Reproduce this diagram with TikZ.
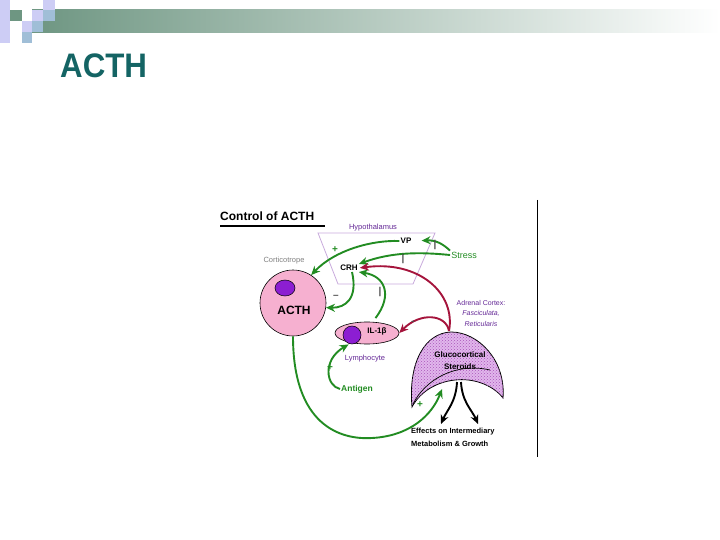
\documentclass[tikz,border=0pt]{standalone}
\usepackage{fontspec}
\setmainfont{Liberation Sans}
\usetikzlibrary{arrows.meta,shapes.geometric,patterns}
\definecolor{ggreen}{RGB}{34,140,34}
\definecolor{rred}{RGB}{165,20,60}
\definecolor{cpink}{RGB}{246,176,208}
\definecolor{npurple}{RGB}{140,30,210}
\definecolor{trap}{RGB}{200,170,220}
\definecolor{ttl}{RGB}{20,100,100}
\definecolor{lav}{RGB}{205,205,245}
\definecolor{lblue}{RGB}{160,190,215}
\definecolor{dgg}{RGB}{110,150,130}
\definecolor{lblpurple}{RGB}{100,40,150}
\definecolor{crfill}{RGB}{225,182,236}
\definecolor{crhatch}{RGB}{170,85,185}
\begin{document}
\begin{tikzpicture}[x=1pt,y=-1pt,
  garrow/.style={draw=ggreen,line width=1.9pt,-{Stealth[length=9pt,width=8pt]}},
  rarrow/.style={draw=rred,line width=1.9pt,-{Stealth[length=9pt,width=8pt]}},
  barrow/.style={draw=black,line width=1.9pt,-{Stealth[length=9pt,width=8pt]}},
  txt/.style={inner sep=1pt,font=\fontsize{7.5}{9}\selectfont},
  sign/.style={inner sep=0pt,font=\fontsize{10}{11}\selectfont\bfseries}]
\useasboundingbox (0,0) rectangle (720,540);
% header decoration
\shade[left color=dgg,right color=white] (32,10) rectangle (720,33);
\fill[lav] (0,0) rectangle (10,43);
\fill[dgg] (10,10) rectangle (22,21);
\fill[lav] (43,0) rectangle (55,10);
\fill[lav] (32,10) rectangle (43,21);
\fill[lblue] (43,10) rectangle (55,21);
\fill[lav] (22,21) rectangle (32,32);
\fill[lblue] (32,21) rectangle (43,32);
\fill[lblue] (22,32) rectangle (32,43);
\node[anchor=base west,inner sep=0,text=ttl,font=\fontsize{34}{34}\selectfont\bfseries] (title) at (60,78) {\scalebox{0.92}[1]{ACTH}};
% frame line
\draw[line width=1pt] (537,200) -- (537,457);
% heading
\node[anchor=base west,inner sep=0,font=\fontsize{12}{14}\selectfont\bfseries] (ctl) at (220,221) {Control of ACTH};
\draw[line width=1.5pt] (220,226) -- (325,226);
% hypothalamus
\draw[trap,line width=0.8pt] (318,233) -- (435,233) -- (413,284) -- (338,284) -- cycle;
\node[txt,text=lblpurple] (hyp) at (373,228) {Hypothalamus};
\node[inner sep=1pt,font=\fontsize{8}{9}\selectfont\bfseries] (vp) at (406,241) {VP};
\node[inner sep=1pt,font=\fontsize{8}{9}\selectfont\bfseries] (crh) at (349,268) {CRH};
% corticotrope
\node[txt,text=gray] (cort) at (284,261) {Corticotrope};
\node[circle,draw=black,line width=0.6pt,fill=cpink,minimum size=66pt,inner sep=0] (acth) at (293,303) {};
\node[ellipse,draw=black,line width=0.5pt,fill=npurple,minimum width=20pt,minimum height=16pt,inner sep=0] (nuc1) at (285,288) {};
\node[inner sep=0,font=\fontsize{12}{13}\selectfont\bfseries] (acthtxt) at (294,310) {ACTH};
% lymphocyte
\node[ellipse,draw=black,line width=0.6pt,fill=cpink,minimum width=64pt,minimum height=22pt,inner sep=0] (lym) at (367,333) {};
\node[circle,draw=black,line width=0.5pt,fill=npurple,minimum size=18pt,inner sep=0] (nuc2) at (352,335) {};
\node[inner sep=0,font=\fontsize{8}{9}\selectfont\bfseries] (il) at (377,331) {IL-1β};
\node[txt,text=lblpurple] (lymtxt) at (365,359) {Lymphocyte};
\node[inner sep=1pt,text=ggreen,font=\fontsize{8.5}{9}\selectfont\bfseries] (antigen) at (357,389) {Antigen};
\node[inner sep=1pt,text=ggreen,font=\fontsize{9}{10}\selectfont] (stress) at (464,255) {Stress};
% adrenal cortex
\node[txt,text=lblpurple,align=center,font=\fontsize{7}{10.5}\selectfont] (adr) at (481,313) {Adrenal Cortex:\\\textit{Fasciculata,}\\\textit{Reticularis}};
% crescent
\draw[line width=0.8pt,fill=crfill] (412,407) .. controls (408,362) and (425,333) .. (451,332)
   .. controls (478,332) and (506,360) .. (503,398)
   .. controls (492,384) and (472,378) .. (455,380)
   .. controls (436,382) and (420,392) .. (412,407) -- cycle;
\fill[pattern=crosshatch dots,pattern color=crhatch] (412,407) .. controls (408,362) and (425,333) .. (451,332)
   .. controls (478,332) and (506,360) .. (503,398)
   .. controls (492,384) and (472,378) .. (455,380)
   .. controls (436,382) and (420,392) .. (412,407) -- cycle;
\draw[line width=0.7pt] (413,404) .. controls (425,380) and (455,362) .. (490,370);
\node[inner sep=0,align=center,font=\fontsize{8}{12}\selectfont\bfseries] (gluc) at (460,361) {Glucocortical\\Steroids};
\coordinate (gtop) at (449,331);
\coordinate (gin) at (442,389);
\coordinate (gbl) at (457,382);
\coordinate (gbr) at (461,382);
\coordinate (e1) at (441,424);
\coordinate (e2) at (478,424);
\node[anchor=north west,align=left,inner sep=0,font=\fontsize{7.5}{13}\selectfont\bfseries] (eff) at (411,428) {Effects on Intermediary\\Metabolism \& Growth};
% connectors
\draw[garrow] (vp.west) .. controls (372,240) and (335,250) .. (acth.57);
\draw[garrow,shorten >=9pt] (stress.north west) .. controls (443,244) and (436,240) .. (vp.east);
\draw[garrow] (stress.west) .. controls (420,252) and (392,252) .. (crh.north east);
\draw[garrow] ([yshift=4pt]lym.52) .. controls (393,295) and (385,276) .. (crh.south east);
\draw[garrow] ([xshift=3pt]crh.south) .. controls (358,298) and (346,308) .. (acth.-8);
\draw[garrow,shorten >=3pt] (antigen.west) .. controls (326,386) and (322,360) .. (lym.212);
\draw[garrow] (acth.south) .. controls (293,425) and (340,440) .. (372,438) .. controls (410,436) and (432,415) .. (gin);
\draw[rarrow,shorten >=1pt] (gtop) .. controls (456,294) and (420,260) .. (crh.east);
\draw[rarrow] (gtop) .. controls (446,314) and (420,312) .. (lym.east);
\draw[barrow] (gbl) .. controls (456,402) and (447,410) .. (e1);
\draw[barrow] (gbr) .. controls (462,402) and (472,410) .. (e2);
% signs
\node[sign,text=ggreen] (s1) at (335,250) {+};
\node[sign,text=black!70] (s2) at (403,259) {|};
\node[sign,text=black!70] (s3) at (435,245) {|};
\node[sign,text=black!70] (s4) at (380,292) {|};
\node[sign,text=black!70] (s5) at (336,297) {–};
\node[sign,text=black!70] (s6) at (413,323) {-};
\node[sign,text=ggreen] (s7) at (330,368) {+};
\node[sign,text=ggreen] (s8) at (420,405) {+};
\end{tikzpicture}
\end{document}
